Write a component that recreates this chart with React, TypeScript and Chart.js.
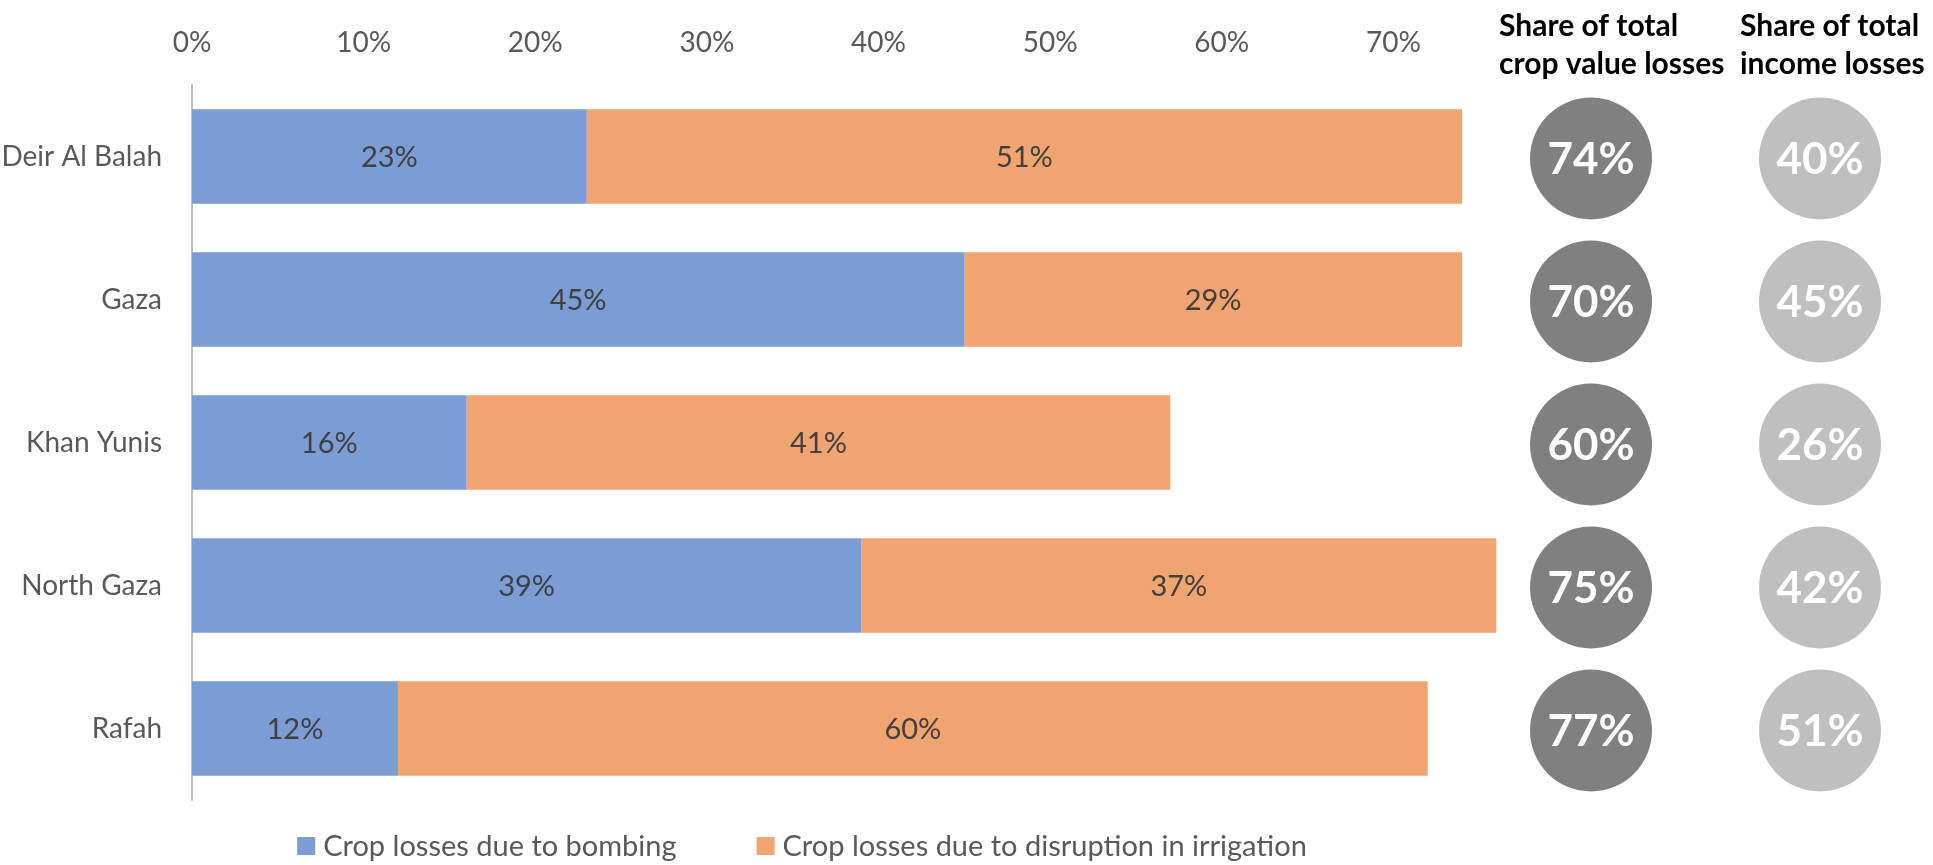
import React, { useEffect, useRef } from 'react';
import { Chart, registerables } from 'chart.js';

Chart.register(...registerables);

const categories = ['Deir Al Balah', 'Gaza', 'Khan Yunis', 'North Gaza', 'Rafah'];
const bombingLosses = [23, 45, 16, 39, 12];
const irrigationLosses = [51, 29, 41, 37, 60];
const cropValueShare = [74, 70, 60, 75, 77];
const incomeShare = [40, 45, 26, 42, 51];
const xTickValues = [0, 10, 20, 30, 40, 50, 60, 70];
const seriesLabels = ['Crop losses due to bombing', 'Crop losses due to disruption in irrigation'];
const shareHeaders = [
  ['Share of total', 'crop value losses'],
  ['Share of total', 'income losses'],
];

const FONT = 'Lato';
const BLUE = '#7B9CD5';
const ORANGE = '#F1A46F';
const TEXT_GRAY = '#595959';
const CIRCLE_COLORS = ['#808080', '#BFBFBF'];
const CIRCLE_X = [1591, 1820];
const HEADER_X = [1499, 1740];

const extrasPlugin = {
  id: 'extras',
  afterDatasetsDraw(chart: any) {
    const ctx = chart.ctx as CanvasRenderingContext2D;
    ctx.save();
    // segment labels
    ctx.font = `29px ${FONT}`;
    ctx.fillStyle = '#404040';
    ctx.textAlign = 'center';
    ctx.textBaseline = 'middle';
    chart.data.datasets.forEach((ds: any, di: number) => {
      const meta = chart.getDatasetMeta(di);
      meta.data.forEach((bar: any, i: number) => {
        const p = bar.getProps(['x', 'base', 'y'], true);
        ctx.fillText(ds.data[i] + '%', (p.x + p.base) / 2, p.y + 1);
      });
    });

    // share circles
    const yScale = chart.scales.y;
    [cropValueShare, incomeShare].forEach((vals, k) => {
      vals.forEach((v, i) => {
        const cy = yScale.getPixelForValue(i) + 2;
        const cx = CIRCLE_X[k];
        ctx.beginPath();
        ctx.arc(cx, cy, 61, 0, Math.PI * 2);
        ctx.fillStyle = CIRCLE_COLORS[k];
        ctx.fill();
        ctx.fillStyle = '#FFFFFF';
        ctx.font = `bold 44px ${FONT}`;
        ctx.textAlign = 'center';
        ctx.textBaseline = 'middle';
        ctx.fillText(v + '%', cx, cy + 1);
      });
    });

    // headers
    ctx.fillStyle = '#000000';
    ctx.font = `bold 30px ${FONT}`;
    ctx.textAlign = 'left';
    ctx.textBaseline = 'alphabetic';
    shareHeaders.forEach((lines, k) => {
      lines.forEach((line, j) => {
        ctx.fillText(line, HEADER_X[k], 36 + j * 38);
      });
    });

    // legend
    ctx.font = `29px ${FONT}`;
    ctx.textBaseline = 'middle';
    const box = 18;
    const gapBox = 8;
    const gapItems = 80;
    const items = chart.data.datasets.map((ds: any) => ({
      text: ds.label as string,
      color: ds.backgroundColor as string,
      w: box + gapBox + ctx.measureText(ds.label).width,
    }));
    const total = items.reduce((a: number, it: any) => a + it.w, 0) + gapItems * (items.length - 1);
    const centerX = 802;
    const ly = 846;
    let lx = centerX - total / 2;
    items.forEach((it: any) => {
      ctx.fillStyle = it.color;
      ctx.fillRect(lx, ly - box / 2, box, box);
      ctx.fillStyle = TEXT_GRAY;
      ctx.fillText(it.text, lx + box + gapBox, ly + 1);
      lx += it.w + gapItems;
    });
    ctx.restore();
  },
};

export default function App() {
  const canvasRef = useRef<HTMLCanvasElement | null>(null);

  useEffect(() => {
    if (!canvasRef.current) return;
    const chart = new Chart(canvasRef.current, {
      type: 'bar',
      data: {
        labels: categories,
        datasets: [
          {
            label: seriesLabels[0],
            data: bombingLosses,
            backgroundColor: BLUE,
            borderWidth: 0,
            barPercentage: 0.66,
            categoryPercentage: 1,
          },
          {
            label: seriesLabels[1],
            data: irrigationLosses,
            backgroundColor: ORANGE,
            borderWidth: 0,
            barPercentage: 0.66,
            categoryPercentage: 1,
          },
        ],
      },
      options: {
        indexAxis: 'y',
        responsive: false,
        animation: false,
        devicePixelRatio: 1,
        layout: { padding: { left: 0, right: 368, top: 0, bottom: 65 } },
        plugins: {
          legend: { display: false },
          title: { display: false },
          tooltip: { enabled: false },
        },
        scales: {
          x: {
            type: 'linear',
            position: 'top',
            stacked: true,
            min: 0,
            max: 80,
            afterBuildTicks: (s: any) => {
              s.ticks = xTickValues.map((v) => ({ value: v }));
            },
            afterFit: (s: any) => {
              s.height = 85;
            },
            grid: { display: false, drawTicks: false },
            border: { display: false },
            ticks: {
              callback: (v: any) => v + '%',
              font: { family: FONT, size: 28 },
              color: TEXT_GRAY,
              padding: 25,
              maxRotation: 0,
              autoSkip: false,
            },
          },
          y: {
            type: 'category',
            stacked: true,
            afterFit: (s: any) => {
              s.width = 192;
            },
            grid: { display: false, drawTicks: false },
            border: { display: true, color: '#BFBFBF', width: 2 },
            ticks: {
              font: { family: FONT, size: 28 },
              color: TEXT_GRAY,
              padding: 30,
            },
          },
        },
      },
      plugins: [extrasPlugin],
    });
    return () => chart.destroy();
  }, []);

  return (
    <div style={{ position: 'fixed', left: 0, top: 0, width: 1933, height: 865, background: '#fff' }}>
      <canvas ref={canvasRef} width={1933} height={865} style={{ display: 'block' }} />
    </div>
  );
}
